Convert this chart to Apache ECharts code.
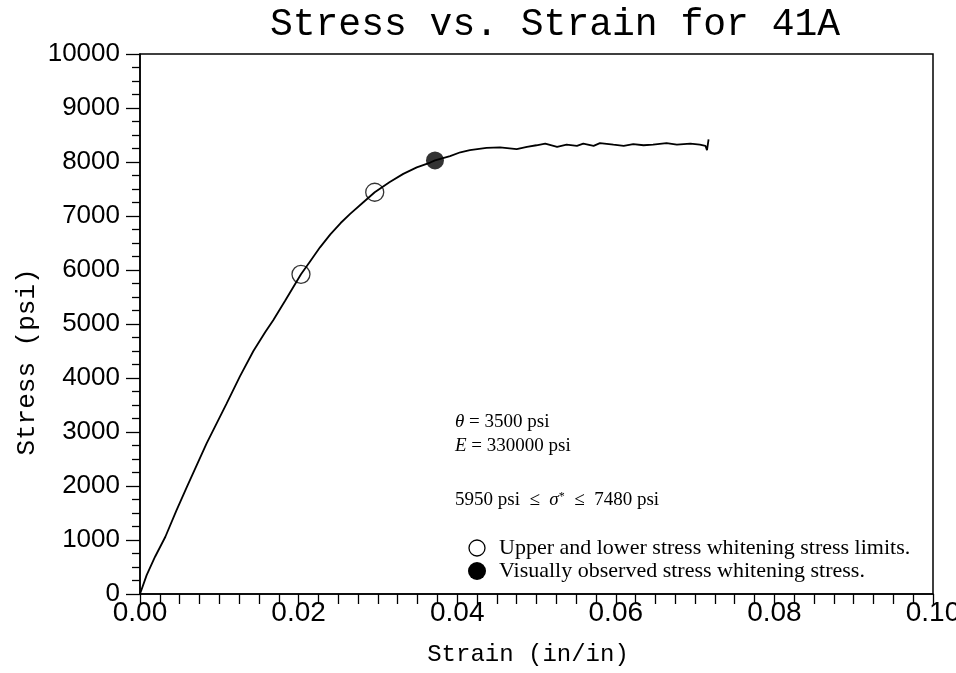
<!DOCTYPE html>
<html>
<head>
<meta charset="utf-8">
<script src="https://cdn.jsdelivr.net/npm/echarts@6/dist/echarts.min.js"></script>
<style>
html,body{margin:0;padding:0;background:#fff;}
#chart{width:956px;height:673px;}
</style>
</head>
<body>
<div id="chart"></div>
<script>
// Measured stress–strain curve for specimen 41A
var strain = [0, 0.00084, 0.0019, 0.0032, 0.0046, 0.0059, 0.0084, 0.0109, 0.0126, 0.0143, 0.0158, 0.0168, 0.0183, 0.0203, 0.0214, 0.0227, 0.0240, 0.0253, 0.0265, 0.0282, 0.0296, 0.0315, 0.0332, 0.0349, 0.0366, 0.0372, 0.0391, 0.0404, 0.0416, 0.0437, 0.0454, 0.0475, 0.0488, 0.0500, 0.0511, 0.0526, 0.0538, 0.0551, 0.0559, 0.0572, 0.0580, 0.0597, 0.0610, 0.0622, 0.0635, 0.0647, 0.0664, 0.0677, 0.0694, 0.0706, 0.0713, 0.0715, 0.0717];
var stress = [0, 350, 690, 1060, 1550, 1980, 2790, 3520, 4030, 4500, 4850, 5070, 5430, 5920, 6150, 6420, 6660, 6870, 7040, 7260, 7440, 7630, 7780, 7900, 7990, 8030, 8110, 8180, 8220, 8260, 8270, 8240, 8280, 8310, 8340, 8280, 8320, 8300, 8340, 8300, 8350, 8320, 8300, 8330, 8310, 8320, 8350, 8320, 8340, 8320, 8300, 8220, 8420];
// Upper and lower stress whitening limits (open circles)
var limitStrain = [0.0203, 0.0296];
var limitStress = [5920, 7440];
// Visually observed stress whitening stress (filled circle)
var observedStrain = [0.0372];
var observedStress = [8030];
// Axis ticks
var xTicks = [0, 0.02, 0.04, 0.06, 0.08, 0.10];
var yTicks = [0, 1000, 2000, 3000, 4000, 5000, 6000, 7000, 8000, 9000, 10000];

var curve = strain.map(function (x, i) { return [x, stress[i]]; });
var limits = limitStrain.map(function (x, i) { return [x, limitStress[i]]; });
var observed = observedStrain.map(function (x, i) { return [x, observedStress[i]]; });

var chart = echarts.init(document.getElementById('chart'), null, {renderer: 'canvas'});
var serif = '"Liberation Serif", "DejaVu Serif", serif';
var mono = '"Liberation Mono", "DejaVu Sans Mono", monospace';
var sans = '"Liberation Sans", Arial, sans-serif';

chart.setOption({
  animation: false,
  backgroundColor: '#fff',
  grid: {left: 140, right: 23, top: 54, bottom: 79, containLabel: false, outerBoundsMode: 'none',
    show: true, borderColor: '#000', borderWidth: 1.5, backgroundColor: 'transparent'},
  xAxis: {
    type: 'value', min: xTicks[0], max: xTicks[xTicks.length - 1], interval: 0.02,
    axisLine: {show: true, lineStyle: {color: '#000', width: 1.5}},
    axisTick: {show: true, inside: false, length: 10, lineStyle: {color: '#000', width: 1.3}},
    minorTick: {show: true, splitNumber: 8, length: 10, lineStyle: {color: '#000', width: 1.3}},
    splitLine: {show: false},
    axisLabel: {fontFamily: sans, fontSize: 28, color: '#000', margin: 5,
      formatter: function (v) { return v.toFixed(2); }}
  },
  yAxis: {
    type: 'value', min: yTicks[0], max: yTicks[yTicks.length - 1], interval: 1000,
    axisLine: {show: true, lineStyle: {color: '#000', width: 1.5}},
    axisTick: {show: true, inside: false, length: 14, lineStyle: {color: '#000', width: 1.3}},
    minorTick: {show: true, splitNumber: 4, length: 8, lineStyle: {color: '#000', width: 1.3}},
    splitLine: {show: false},
    axisLabel: {fontFamily: sans, fontSize: 26, color: '#000', margin: 20,
      formatter: function (v) { return String(v); }}
  },
  series: [
    {type: 'line', data: curve, showSymbol: false, symbol: 'none', smooth: false,
      lineStyle: {color: '#000', width: 1.8}, z: 2},
    {type: 'scatter', data: limits, symbol: 'circle', symbolSize: 18,
      itemStyle: {color: 'rgba(0,0,0,0)', borderColor: '#000', borderWidth: 1.3}, z: 3},
    {type: 'scatter', data: observed, symbol: 'circle', symbolSize: 18,
      itemStyle: {color: '#000'}, z: 3}
  ],
  graphic: [
    {type: 'text', x: 555, y: 25, style: {text: 'Stress vs. Strain for 41A', font: '38px ' + mono, fill: '#000', align: 'center', verticalAlign: 'middle'}},
    {type: 'text', x: 528, y: 655, style: {text: 'Strain (in/in)', font: '24px ' + mono, fill: '#000', align: 'center', verticalAlign: 'middle'}},
    {type: 'text', x: 27, y: 362, rotation: Math.PI / 2, style: {text: 'Stress (psi)', font: '26px ' + mono, fill: '#000', align: 'center', verticalAlign: 'middle'}},
    {type: 'text', x: 455, y: 422, style: {
      text: '{i|θ} = 3500 psi', verticalAlign: 'middle',
      font: '19px ' + serif, fill: '#000',
      rich: {i: {fontStyle: 'italic', fontFamily: serif, fontSize: 19}}}},
    {type: 'text', x: 455, y: 446, style: {
      text: '{i|E} = 330000 psi', verticalAlign: 'middle',
      font: '19px ' + serif, fill: '#000',
      rich: {i: {fontStyle: 'italic', fontFamily: serif, fontSize: 19}}}},
    {type: 'text', x: 455, y: 500, style: {
      text: '5950 psi  ≤  {i|σ}{s|*}  ≤  7480 psi', verticalAlign: 'middle',
      font: '19px ' + serif, fill: '#000',
      rich: {i: {fontStyle: 'italic', fontFamily: serif, fontSize: 19},
             s: {fontFamily: serif, fontSize: 12, verticalAlign: 'top', padding: [0, 0, 6, 0]}}}},
    {type: 'circle', shape: {cx: 477, cy: 548, r: 8}, style: {fill: 'transparent', stroke: '#000', lineWidth: 1.3}},
    {type: 'text', x: 499, y: 548, style: {text: 'Upper and lower stress whitening stress limits.', verticalAlign: 'middle', font: '22px ' + serif, fill: '#000'}},
    {type: 'circle', shape: {cx: 477, cy: 571, r: 9}, style: {fill: '#000'}},
    {type: 'text', x: 499, y: 571, style: {text: 'Visually observed stress whitening stress.', verticalAlign: 'middle', font: '22px ' + serif, fill: '#000'}}
  ]
});
</script>
</body>
</html>
